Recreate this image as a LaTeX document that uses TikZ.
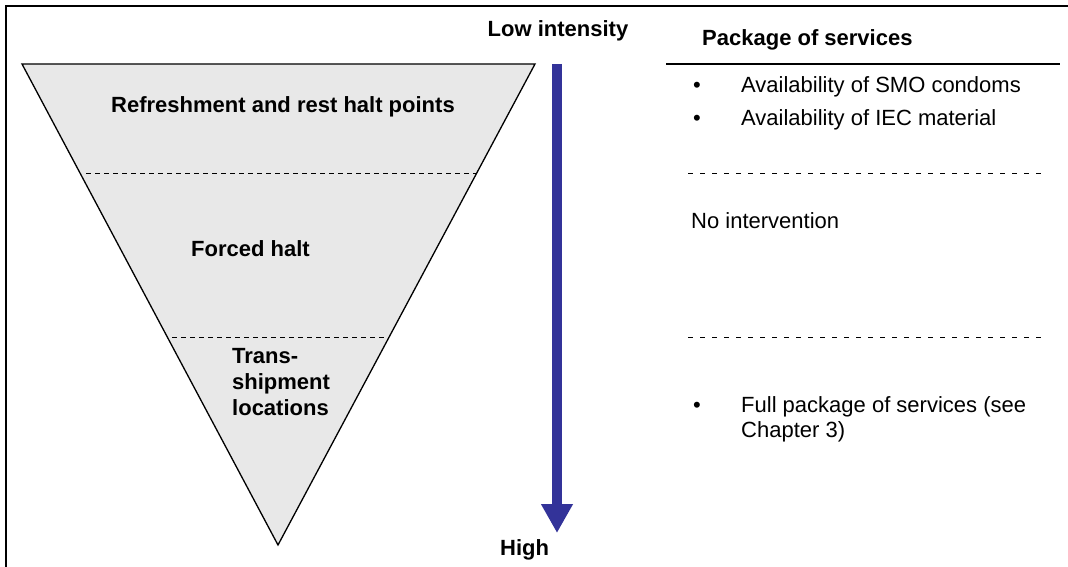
\documentclass[tikz,border=0pt]{standalone}
\usepackage{fontspec}
\setmainfont{Liberation Sans}
\usetikzlibrary{arrows.meta}
\definecolor{arrowblue}{RGB}{51,51,153}
\definecolor{funnelgray}{RGB}{232,232,232}
\begin{document}
\begin{tikzpicture}[x=1pt,y=-1pt,
  txt/.style={inner sep=0pt,anchor=base west,font=\fontsize{22}{26}\selectfont},
  btxt/.style={txt,font=\fontsize{22}{26}\selectfont\bfseries},
  leftdash/.style={dash pattern=on 5pt off 4pt,line width=1pt},
  rightdash/.style={dash pattern=on 5pt off 7pt,line width=1pt},
  bigarrow/.style={draw=arrowblue,line width=10pt,-{Triangle[width=30pt,length=29pt,fill=arrowblue]}}]
\useasboundingbox (0,0) rectangle (1068,567);
% frame (only left and top edges visible)
\draw[line width=2.4pt] (6,580) -- (6,6) -- (1080,6);
% funnel
\coordinate (tl) at (22,64);
\coordinate (tr) at (535,64);
\coordinate (apex) at (278,545);
\draw[fill=funnelgray,line width=1.3pt,line join=miter] (tl) -- (tr) -- (apex) -- cycle;
\coordinate (d1l) at (86,173);
\coordinate (d1r) at (477,173);
\coordinate (d2l) at (172,337);
\coordinate (d2r) at (389,337);
\draw[leftdash] (d1l) -- (d1r);
\draw[leftdash] (d2l) -- (d2r);
\node[btxt,anchor=base] (refresh) at (283,113) {Refreshment and rest halt points};
\node[btxt] (forced) at (191,256) {Forced halt};
\node[btxt] (trans1) at (232,363) {Trans-};
\node[btxt] (trans2) at (232,389) {shipment};
\node[btxt] (trans3) at (232,415) {locations};
% intensity arrow
\node[btxt,anchor=base] (low) at (558,37) {Low intensity};
\node[btxt] (high) at (500,555) {High};
\coordinate (arrtop) at (557,64);
\coordinate (arrtip) at (557,533);
\draw[bigarrow] (arrtop) -- (arrtip);
% services column
\node[btxt] (pkg) at (702,46) {Package of services};
\coordinate (sl) at (666,64);
\coordinate (sr) at (1060,64);
\draw[line width=1.3pt] (sl) -- (sr);
\node[txt] (b1) at (693,93) {•};
\node[txt] (s1) at (741,93) {Availability of SMO condoms};
\node[txt] (b2) at (693,126) {•};
\node[txt] (s2) at (741,126) {Availability of IEC material};
\coordinate (r1l) at (688,173);
\coordinate (r1r) at (1046,173);
\draw[rightdash] (r1l) -- (r1r);
\node[txt] (none) at (691,228) {No intervention};
\coordinate (r2l) at (688,337);
\coordinate (r2r) at (1046,337);
\draw[rightdash] (r2l) -- (r2r);
\node[txt] (b3) at (693,412) {•};
\node[txt] (s3a) at (741,412) {Full package of services (see};
\node[txt] (s3b) at (741,437) {Chapter 3)};
\end{tikzpicture}
\end{document}
